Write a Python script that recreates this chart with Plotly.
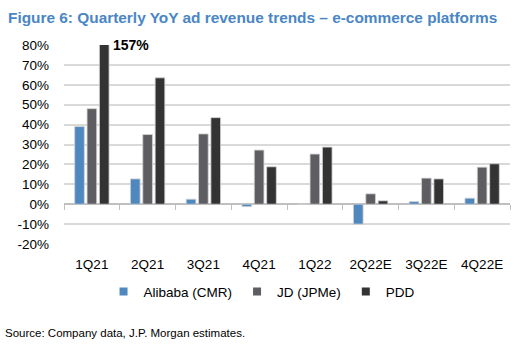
import plotly.graph_objects as go

quarters = ["1Q21", "2Q21", "3Q21", "4Q21", "1Q22", "2Q22E", "3Q22E", "4Q22E"]
alibaba = [39, 12.7, 2.5, -1.2, 0, -10, 1.3, 3]
jd = [48, 35, 35.3, 27.2, 25.2, 5.2, 13.1, 18.6]
pdd = [157, 63.5, 43.5, 18.8, 28.7, 1.7, 12.7, 20.3]
y_ticks = [-20, -10, 0, 10, 20, 30, 40, 50, 60, 70, 80]
y_labels = [f"{v}%" for v in y_ticks]

series = [
    ("Alibaba (CMR)", alibaba, "#4F88BF"),
    ("JD (JPMe)", jd, "#5E5E62"),
    ("PDD", pdd, "#333333"),
]

fig = go.Figure()
for name, vals, col in series:
    fig.add_trace(go.Bar(
        x=quarters, y=vals, name=name, showlegend=False,
        marker=dict(color=col, line=dict(color="#d0d0d0", width=0.8)),
        cliponaxis=True,
    ))
# legend entries with small square markers
for name, vals, col in series:
    fig.add_trace(go.Scatter(x=[None], y=[None], name=name, mode="markers",
                             marker=dict(symbol="square", size=8, color=col),
                             hoverinfo="skip"))

FONT = "Liberation Sans, Arial, sans-serif"

fig.update_layout(
    width=523, height=353,
    margin=dict(l=64, r=13, t=45, b=109),
    paper_bgcolor="white", plot_bgcolor="white",
    barmode="group", bargap=0.335, bargroupgap=0.22,
    font=dict(family=FONT, size=13, color="black"),
    showlegend=True,
    legend=dict(orientation="h", x=0.444, xanchor="center", y=-0.24, yanchor="middle",
                font=dict(size=13.5), itemwidth=30, traceorder="normal",
                tracegroupgap=0, itemsizing="trace"),
    xaxis=dict(type="category", showgrid=False, showline=False, ticks="",
               tickfont=dict(size=13.5), ticklabelstandoff=10),
    yaxis=dict(range=[-20, 80], tickvals=y_ticks, ticktext=y_labels,
               showgrid=True, gridcolor="#d9d9d9", gridwidth=1.5,
               zeroline=True, zerolinecolor="#bfbfbf", zerolinewidth=1.5,
               showline=False, ticks="", ticklabelstandoff=14,
               tickfont=dict(size=13.5)),
    xaxis2=dict(type="category", matches="x", overlaying="x", anchor="free", position=0.2,
                showline=False, ticks="outside", tickson="boundaries", ticklen=5,
                tickcolor="#bfbfbf", tickwidth=1, showticklabels=False, showgrid=False),
)

fig.add_trace(go.Scatter(x=quarters, y=[None]*len(quarters), xaxis="x2", showlegend=False,
                         mode="markers", hoverinfo="skip"))

fig.add_annotation(x=quarters[0], y=80, xref="x", yref="y", text="<b>157%</b>",
                   showarrow=False, xanchor="left", yanchor="middle", xshift=19,
                   font=dict(size=14, color="black"))

fig.add_annotation(x=0, y=1, xref="paper", yref="paper", xanchor="left", yanchor="middle",
                   text="<b>Figure 6: Quarterly YoY ad revenue trends – e-commerce platforms</b>",
                   showarrow=False, xshift=-58, yshift=28,
                   font=dict(size=15.4, color="#4A86C5", family=FONT))

fig.add_annotation(x=0, y=0, xref="paper", yref="paper", xanchor="left", yanchor="middle",
                   text="Source: Company data, J.P. Morgan estimates.",
                   showarrow=False, xshift=-61, yshift=-89,
                   font=dict(size=11.5, color="black", family=FONT))

fig.write_html("out.html")
